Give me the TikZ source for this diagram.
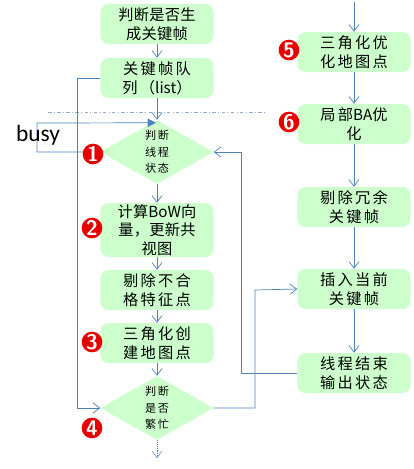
\documentclass[tikz,border=0pt]{standalone}
\usepackage{fontspec}
\usepackage{tikz}
\usetikzlibrary{shapes.geometric,arrows.meta,positioning,calc}
\newfontfamily\cjk{Noto Sans CJK SC}[LetterSpace=15]
\newfontfamily\cjkn{Noto Sans CJK SC}[LetterSpace=2]
\newfontfamily\cjks{Noto Sans CJK SC}[LetterSpace=15]
\newfontfamily\cjkplain{Noto Sans CJK SC}
\newfontfamily\busyfont{Carlito}
\newcommand{\lat}[1]{{\cjkplain #1}}
\definecolor{boxgreen}{RGB}{204,255,204}
\definecolor{flowblue}{RGB}{79,129,189}
\definecolor{dashgrey}{RGB}{141,170,205}
\definecolor{numred}{RGB}{230,0,0}

\begin{document}
\begin{tikzpicture}[x=0.03cm, y=-0.03cm, >={Straight Barb[length=2mm,width=3mm]},
  stepbox/.style={rectangle, rounded corners=2.4mm, fill=boxgreen, draw=none,
      minimum width=3.39cm, minimum height=1.2cm, inner sep=0pt, align=center,
      font=\fontsize{13}{16.5}\selectfont\cjk},
  decide/.style={diamond, fill=boxgreen, draw=none, aspect=1.77,
      minimum width=3.39cm, minimum height=1.92cm, inner sep=0pt, align=center,
      font=\fontsize{9.5}{14}\selectfont\cjks},
  numdot/.style={circle, fill=numred, text=white, inner sep=0pt, minimum size=0.62cm,
      font=\fontsize{18}{18}\selectfont\sffamily\bfseries},
  flow/.style={draw=flowblue, semithick}]
\useasboundingbox (0,0) rectangle (413,469);

% left column
\node[stepbox, font=\fontsize{13}{16.5}\selectfont\cjkn] (decidekf) at (157,24) {判断是否生\\成关键帧};
\node[stepbox] (kfqueue) at (157,78) {关键帧队\\列（\lat{list}）};
\node[decide] (state) at (157,152) {判断\\线程\\状态};
\node[stepbox, minimum height=1.62cm, font=\fontsize{13}{16}\selectfont\cjkn] (bow) at (157,230) {计算\lat{BoW}向\\量，更新共\\视图};
\node[stepbox] (cull) at (157,290) {剔除不合\\格特征点};
\node[stepbox] (triang) at (157,343) {三角化创\\建地图点};
\node[decide] (busy) at (157,408) {判断\\是否\\繁忙};

% right column
\node[stepbox] (refine) at (354,52) {三角化优\\化地图点};
\node[stepbox] (localba) at (354,124) {局部\lat{BA}优\\化};
\node[stepbox] (cullkf) at (354,207) {剔除冗余\\关键帧};
\node[stepbox] (insert) at (354,289) {插入当前\\关键帧};
\node[stepbox] (finish) at (354,373) {线程结束\\输出状态};
\coordinate (topin) at (354,2);
\coordinate (bottomout) at (157,458);

% separator
\draw[dashgrey, thick, dash dot] (48,112) -- (265,112);

% connectors
\draw[flow, ->] (decidekf) -- (kfqueue);
\draw[flow, ->] (kfqueue) -- (state);
\draw[flow, ->] (state) -- (bow);
\draw[flow, ->] (bow) -- (cull);
\draw[flow, ->] (cull) -- (triang);
\draw[flow, ->] (triang) -- (busy);
\draw[flow, ->] (kfqueue.west) -- (77,78) -- (77,408) -- (busy.west);
\draw[flow, ->] (busy.east) -- (255,408) -- (255,290) -- (insert.west);
\draw[flow, ->] (finish.west) -- (241,373) -- (241,152) -- (state.east);
\draw[flow, -{Triangle[length=2.5mm,width=2.5mm]}] (state.west) -- (37,152) -- (37,123) -- ($(state.north)+(-1,3)$);
\draw[flow, densely dotted, ->, thin] (busy.south) -- (bottomout);

\draw[flow, ->] (topin) -- (refine);
\draw[flow, ->] (refine) -- (localba);
\draw[flow, ->] (localba) -- (cullkf);
\draw[flow, ->] (cullkf) -- (insert);
\draw[flow, ->] (insert) -- (finish);

% labels
\node[font=\fontsize{20}{20}\selectfont\busyfont] (busylabel) at (38,135) {busy};
\node[numdot] (n1) at (93,154) {1};
\node[numdot] (n2) at (92,228) {2};
\node[numdot] (n3) at (92,342) {3};
\node[numdot] (n4) at (92,428) {4};
\node[numdot] (n5) at (289,50) {5};
\node[numdot] (n6) at (289,122) {6};
\end{tikzpicture}
\end{document}
